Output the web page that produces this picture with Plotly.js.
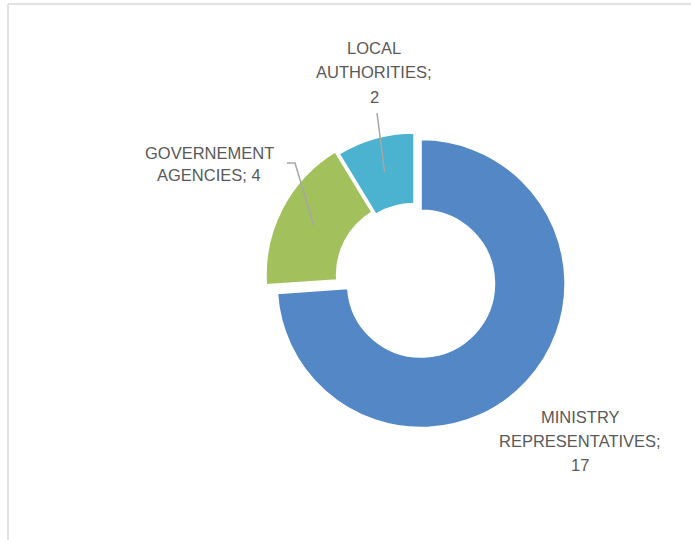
<!DOCTYPE html>
<html>
<head>
<meta charset="utf-8">
<script src="https://cdn.plot.ly/plotly-3.0.1.min.js"></script>
<style>
  html, body { margin: 0; padding: 0; background: #ffffff; }
  #chart { width: 691px; height: 540px; }
</style>
</head>
<body>
<div id="chart"></div>
<script>
// ---- data ----
var categories = ["MINISTRY REPRESENTATIVES", "GOVERNEMENT AGENCIES", "LOCAL AUTHORITIES"];
var values = [17, 4, 2];
var labelLines = [["MINISTRY", "REPRESENTATIVES;", "17"], ["GOVERNEMENT", "AGENCIES; 4"], ["LOCAL", "AUTHORITIES;", "2"]];
var colors = ["#5387C6", "#A2C15C", "#4BB2CF"];

// ---- layout geometry (pixels) ----
var W = 691, H = 540;
var cx = 414, cy = 277;          // pie centre
var pulls = [0.067, 0.031, 0.0];
var hole = 0.51;
var R = 144;                      // wanted outer radius
var maxPull = Math.max.apply(null, pulls);
var half = R * (1 + maxPull);     // half of domain size

function px(x) { return x / W; }
function py(y) { return 1 - y / H; }

var labelPos = [[580, 441], [209, 164], [374, 72]];
var lineGap = [24, 23, 24.5];
var showLeader = [false, true, true];

var total = values.reduce(function (a, b) { return a + b; }, 0);
var shapes = [];
// chart-area frame
shapes.push({type: 'line', xref: 'paper', yref: 'paper', x0: px(8), x1: px(8), y0: py(4), y1: py(545),
  line: {color: '#D9D9D9', width: 1.5}});
shapes.push({type: 'line', xref: 'paper', yref: 'paper', x0: px(8), x1: px(700), y0: py(4), y1: py(4),
  line: {color: '#D9D9D9', width: 1.5}});

var annotations = [];
var cum = 0;
for (var i = 0; i < values.length; i++) {
  var mid = (cum + values[i] / 2) / total * 2 * Math.PI;
  cum += values[i];
  var rr = R * (1 + hole) / 2 + R * pulls[i];
  var ex = cx + rr * Math.sin(mid), ey = cy - rr * Math.cos(mid);
  var n = labelLines[i].length;
  for (var k = 0; k < n; k++) {
    var ly = labelPos[i][1] + (k - (n - 1) / 2) * lineGap[i];
    annotations.push({
      text: labelLines[i][k], xref: 'paper', yref: 'paper',
      x: px(labelPos[i][0]), y: py(ly), xanchor: 'center', yanchor: 'middle',
      showarrow: false,
      font: {family: 'Liberation Sans, Arial, sans-serif', size: 16.5, color: '#595959'}
    });
  }
  if (showLeader[i]) {
    var path;
    if (i === 1) {
      path = 'M ' + px(287) + ' ' + py(163) + ' L ' + px(295) + ' ' + py(163) + ' L ' + px(ex) + ' ' + py(ey);
    } else {
      path = 'M ' + px(377) + ' ' + py(113) + ' L ' + px(ex) + ' ' + py(ey);
    }
    shapes.push({type: 'path', xref: 'paper', yref: 'paper', path: path,
      line: {color: '#A6A6A6', width: 1.5}});
  }
}

var trace = {
  type: 'pie',
  labels: categories,
  values: values,
  hole: hole,
  pull: pulls,
  sort: false,
  direction: 'clockwise',
  rotation: 0,
  textinfo: 'none',
  hoverinfo: 'label+value',
  marker: {colors: colors, line: {color: '#ffffff', width: 1.5}},
  domain: {x: [px(cx - half), px(cx + half)], y: [py(cy + half), py(cy - half)]},
  showlegend: false
};

var layout = {
  width: W, height: H,
  margin: {l: 0, r: 0, t: 0, b: 0},
  paper_bgcolor: '#ffffff',
  showlegend: false,
  shapes: shapes,
  annotations: annotations
};

Plotly.newPlot('chart', [trace], layout, {displayModeBar: false, staticPlot: true});
</script>
</body>
</html>
